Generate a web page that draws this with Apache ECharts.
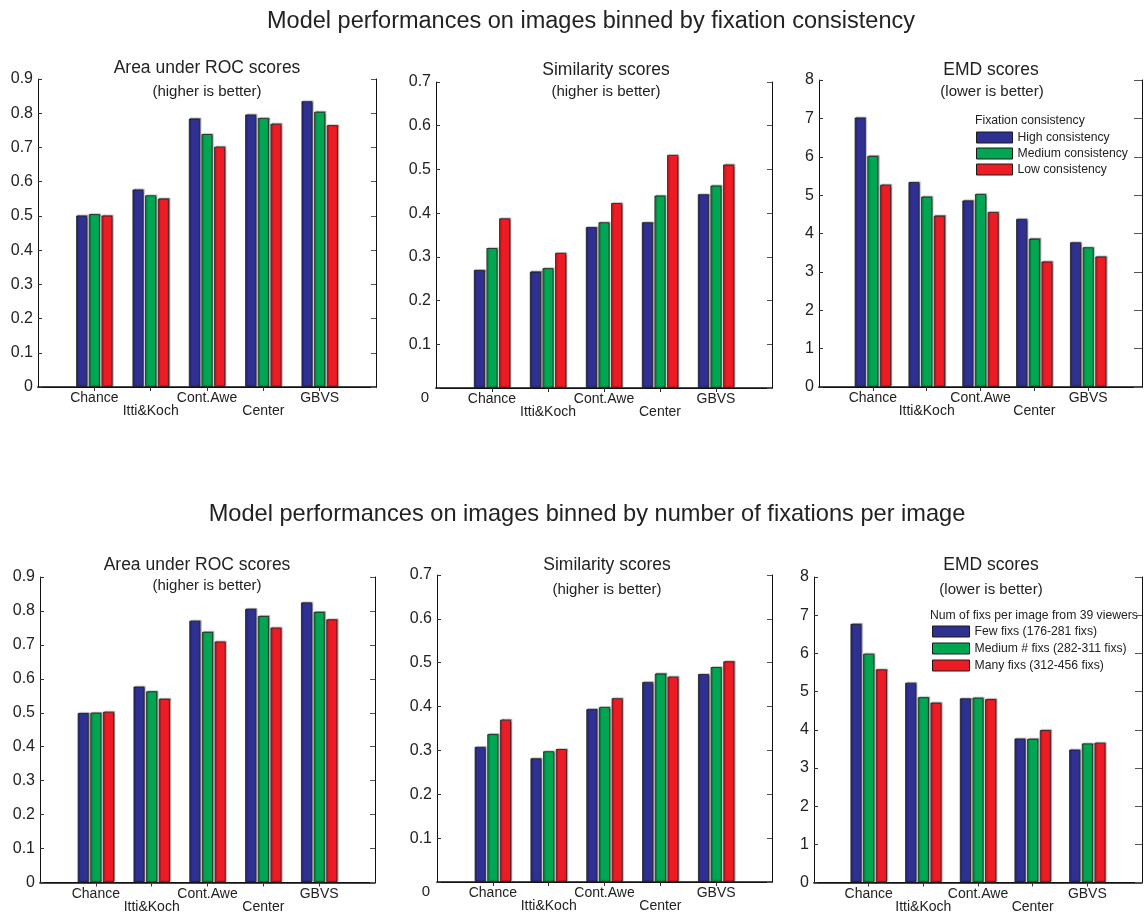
<!DOCTYPE html>
<html>
<head>
<meta charset="utf-8">
<title>Model performances</title>
<script src="https://cdn.jsdelivr.net/npm/echarts@6/dist/echarts.min.js"></script>
<style>
  html, body { margin: 0; padding: 0; background: #fff; }
  #chart { width: 1145px; height: 914px; }
</style>
</head>
<body>
<div id="chart"></div>
<script>
// Saliency models compared on three metrics
const categories = ['Chance', 'Itti&Koch', 'Cont.Awe', 'Center', 'GBVS'];

// Top row: images binned by fixation consistency
const consistencyNames = ['High consistency', 'Medium consistency', 'Low consistency'];
const aucConsHigh = [0.501, 0.577, 0.784, 0.796, 0.835];
const aucConsMed  = [0.505, 0.560, 0.739, 0.786, 0.804];
const aucConsLow  = [0.501, 0.550, 0.702, 0.769, 0.765];
const simConsHigh = [0.270, 0.266, 0.368, 0.379, 0.443];
const simConsMed  = [0.320, 0.274, 0.379, 0.440, 0.463];
const simConsLow  = [0.388, 0.309, 0.423, 0.533, 0.511];
const emdConsHigh = [7.02, 5.34, 4.86, 4.38, 3.77];
const emdConsMed  = [6.02, 4.96, 5.03, 3.86, 3.64];
const emdConsLow  = [5.27, 4.46, 4.56, 3.27, 3.40];

// Bottom row: images binned by number of fixations per image
const fixCountNames = ['Few fixs (176-281 fixs)', 'Medium # fixs (282-311 fixs)', 'Many fixs (312-456 fixs)'];
const aucFixFew  = [0.499, 0.577, 0.771, 0.806, 0.825];
const aucFixMed  = [0.500, 0.563, 0.738, 0.785, 0.797];
const aucFixMany = [0.503, 0.541, 0.710, 0.751, 0.775];
const simFixFew  = [0.308, 0.282, 0.394, 0.456, 0.474];
const simFixMed  = [0.337, 0.298, 0.399, 0.475, 0.490];
const simFixMany = [0.370, 0.303, 0.419, 0.468, 0.503];
const emdFixFew  = [6.77, 5.23, 4.82, 3.77, 3.48];
const emdFixMed  = [5.99, 4.85, 4.84, 3.76, 3.64];
const emdFixMany = [5.58, 4.71, 4.80, 3.99, 3.66];

const FONT = "'Liberation Sans', Arial, Helvetica, sans-serif";
const TEXT = '#222';
const barColors = ['#2e3192', '#00a651', '#ed1c24'];

// Each panel: frame position, y range and its three series
const panels = [
  { left: 38,  top: 79,  width: 338, height: 308, max: 0.9, step: 0.1, dec: 1, hideZero: false,
    names: consistencyNames, values: [aucConsHigh, aucConsMed, aucConsLow], rightTick: 5 },
  { left: 436, top: 82,  width: 336, height: 306, max: 0.7, step: 0.1, dec: 1, hideZero: true,
    names: consistencyNames, values: [simConsHigh, simConsMed, simConsLow], rightTick: 5 },
  { left: 819, top: 80,  width: 332, height: 307, max: 8, step: 1, dec: 0, hideZero: false,
    names: consistencyNames, values: [emdConsHigh, emdConsMed, emdConsLow], rightTick: 8 },
  { left: 40,  top: 577, width: 335, height: 306, max: 0.9, step: 0.1, dec: 1, hideZero: false,
    names: fixCountNames, values: [aucFixFew, aucFixMed, aucFixMany], rightTick: 5 },
  { left: 437, top: 575, width: 335, height: 307, max: 0.7, step: 0.1, dec: 1, hideZero: true,
    names: fixCountNames, values: [simFixFew, simFixMed, simFixMany], rightTick: 5 },
  { left: 814, top: 577, width: 330, height: 306, max: 8, step: 1, dec: 0, hideZero: false,
    names: fixCountNames, values: [emdFixFew, emdFixMed, emdFixMany], rightTick: 7 }
];

// Axis data padded with an empty slot at each end so the groups sit at 1..5 of a 0..6 range
const axisCats = [''].concat(categories, ['']);
const innerOnly = idx => idx > 0 && idx < axisCats.length - 1;

const grid = [], xAxis = [], yAxis = [], series = [];
panels.forEach((p, i) => {
  grid.push({ left: p.left, top: p.top, width: p.width, height: p.height, containLabel: false });
  xAxis.push({
    type: 'category', gridIndex: i, data: axisCats, boundaryGap: false, position: 'bottom',
    axisLine: { show: true, lineStyle: { color: '#111', width: 1.6 } },
    axisTick: { show: false },
    splitLine: { show: false },
    axisLabel: {
      interval: 0, margin: 5, fontSize: 14, lineHeight: 13, color: TEXT, fontFamily: FONT,
      formatter: (v, idx) => (idx === 2 || idx === 4) ? '\n' + v : v
    }
  });
  xAxis.push({
    type: 'category', gridIndex: i, data: axisCats, boundaryGap: false, position: 'top',
    axisLine: { show: true, lineStyle: { color: '#111', width: 1 } },
    axisTick: { show: true, inside: true, length: 4, interval: innerOnly, lineStyle: { color: '#333' } },
    axisLabel: { show: false }, splitLine: { show: false }
  });
  yAxis.push({
    type: 'value', gridIndex: i, min: 0, max: p.max, interval: p.step, position: 'left',
    axisLine: { show: true, lineStyle: { color: '#111', width: 1 } },
    axisTick: { show: true, inside: true, length: 4, lineStyle: { color: '#333' } },
    splitLine: { show: false },
    axisLabel: {
      margin: 5, fontSize: 16, color: TEXT, fontFamily: FONT,
      formatter: v => (v === 0 ? (p.hideZero ? '' : '0') : v.toFixed(p.dec))
    }
  });
  yAxis.push({
    type: 'value', gridIndex: i, min: 0, max: p.max, interval: p.step, position: 'right',
    axisLine: { show: true, lineStyle: { color: '#111', width: 1 } },
    axisTick: { show: true, inside: true, length: p.rightTick, lineStyle: { color: '#555' } },
    splitLine: { show: false }, axisLabel: { show: false }
  });
  p.values.forEach((vals, k) => {
    series.push({
      type: 'bar', name: p.names[k],
      xAxisIndex: 2 * i, yAxisIndex: 2 * i,
      data: ['-'].concat(vals, ['-']),
      barWidth: 11, barGap: '15%',
      itemStyle: {
        color: barColors[k], borderColor: '#1a1a1a', borderWidth: 0.8,
        shadowColor: 'rgba(0,0,0,0.35)', shadowBlur: 1, shadowOffsetX: 1.2, shadowOffsetY: -0.8
      },
      emphasis: { disabled: true }
    });
  });
});

function label(text, x, y, size, align) {
  return {
    type: 'text', x: x, y: y, silent: true,
    style: {
      text: text, fontSize: size, fontFamily: FONT, fill: TEXT,
      align: align || 'center', verticalAlign: 'middle',
      textAlign: align || 'center', textVerticalAlign: 'middle'
    }
  };
}

const graphic = [
  label('Model performances on images binned by fixation consistency', 591, 22, 23.5),
  label('Model performances on images binned by number of fixations per image', 587, 514, 23.6),

  label('Area under ROC scores', 207, 68, 17.5),
  label('(higher is better)', 207, 92, 15),
  label('Similarity scores', 606, 70, 17.5),
  label('(higher is better)', 606, 92, 15),
  label('EMD scores', 991, 70, 17.5),
  label('(lower is better)', 992, 92, 15),
  label('0', 425, 398, 15),
  label('Fixation consistency', 975, 121, 12.2, 'left'),

  label('Area under ROC scores', 197, 565, 17.5),
  label('(higher is better)', 207, 586, 15),
  label('Similarity scores', 607, 565, 17.5),
  label('(higher is better)', 607, 590, 15),
  label('EMD scores', 991, 565, 17.5),
  label('(lower is better)', 991, 590, 15),
  label('0', 426, 892, 15),
  label('Num of fixs per image from 39 viewers', 930, 616, 12.2, 'left')
];

const legendBase = {
  orient: 'vertical', padding: 0, icon: 'rect', itemHeight: 11, selectedMode: false,
  textStyle: { fontSize: 12.2, lineHeight: 11, color: TEXT, fontFamily: FONT },
  itemStyle: { borderColor: '#1a1a1a', borderWidth: 1 }
};

const option = {
  backgroundColor: '#fff',
  animation: false,
  grid: grid, xAxis: xAxis, yAxis: yAxis, series: series,
  legend: [
    Object.assign({}, legendBase, { data: consistencyNames, left: 976, top: 131.5, itemWidth: 36, itemGap: 4 }),
    Object.assign({}, legendBase, { data: fixCountNames, left: 932, top: 625.5, itemWidth: 37, itemGap: 5 })
  ],
  graphic: graphic
};

const chart = echarts.init(document.getElementById('chart'), null, { renderer: 'canvas' });
chart.setOption(option);
</script>
</body>
</html>
